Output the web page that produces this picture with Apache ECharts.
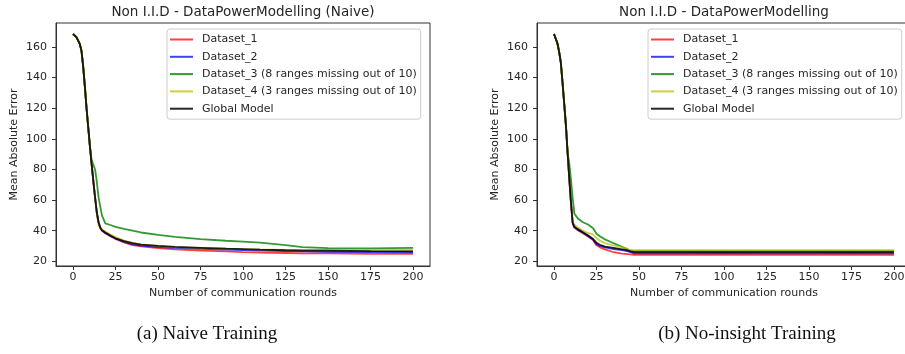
<!DOCTYPE html>
<html>
<head>
<meta charset="utf-8">
<script src="https://cdn.jsdelivr.net/npm/echarts@6/dist/echarts.min.js"></script>
<style>
  html, body { margin: 0; padding: 0; background: #fff; overflow: hidden; }
  #chart { width: 912px; height: 354px; }
</style>
</head>
<body>
<div id="chart"></div>
<script>
// series names, shared by both panels
const seriesNames = [
  "Dataset_1",
  "Dataset_2",
  "Dataset_3 (8 ranges missing out of 10)",
  "Dataset_4 (3 ranges missing out of 10)",
  "Global Model",
];
const seriesColors = [
  "rgba(255,0,0,0.75)",
  "rgba(0,0,255,0.75)",
  "rgba(0,128,0,0.8)",
  "rgba(191,191,0,0.75)",
  "rgba(0,0,0,0.85)",
];

const xTicks = [0, 25, 50, 75, 100, 125, 150, 175, 200];
const yTicks = [20, 40, 60, 80, 100, 120, 140, 160];

// (a) naive training
const roundsNaive = [0, 2, 4, 5, 6, 7, 8, 9, 10, 11, 12, 13, 14, 15, 16, 17, 19, 22, 25, 30, 35, 40, 50, 60, 75, 90, 100, 110, 125, 135, 150, 175, 200];
const naiveDataset1 = [168.5, 166.5, 162, 157.5, 147, 134, 119.5, 107, 94.5, 83, 72, 61.5, 52, 45.5, 42, 40, 38.3, 36.3, 34.6, 32.3, 30.6, 29.7, 28.6, 27.8, 27.0, 26.4, 26.0, 25.7, 25.4, 25.2, 25.1, 24.9, 24.8];
const naiveDataset2 = [168.5, 166.5, 162, 157.5, 147, 134, 119.5, 107, 94.5, 83, 72, 61.5, 52, 45.5, 42, 40.3, 38.5, 36.6, 35, 32.7, 31.1, 30.2, 29.3, 28.7, 28.1, 27.6, 27.3, 27.0, 26.6, 26.4, 26.2, 26.0, 25.9];
const naiveDataset3 = [168.5, 166.5, 162, 157.5, 147, 134, 119.5, 107, 94.5, 86, 83, 80, 72, 62, 56, 50, 44.8, 43.7, 42.5, 41.2, 40, 38.8, 37.3, 36, 34.5, 33.4, 32.8, 32.2, 30.6, 29.3, 28.6, 28.4, 28.8];
const naiveDataset4 = [168.5, 166.5, 162, 157.5, 147, 134, 119.5, 107, 94.5, 83, 72, 61.5, 51, 44, 41.5, 41, 39.5, 37.5, 35.8, 33.5, 32, 31, 30, 29.3, 28.7, 28.2, 27.9, 27.7, 27.5, 27.5, 27.5, 27.5, 27.5];
const naiveGlobal = [168.5, 166.5, 162, 157.5, 147, 134, 119.5, 107, 94.5, 83, 72, 61.5, 52, 45.5, 42, 40.3, 38.8, 36.8, 35, 33.2, 31.8, 30.9, 30, 29.4, 28.8, 28.2, 27.9, 27.6, 27.2, 27, 26.9, 26.6, 26.5];

// (b) no-insight training
const roundsNoInsight = [0, 2, 3, 4, 5, 6, 7, 8, 9, 10, 11, 12, 14, 17, 20, 23, 25, 27, 30, 35, 40, 43, 45, 47, 50, 75, 100, 125, 150, 175, 200];
const noInsightDataset1 = [168.5, 162.5, 157, 150, 137, 123, 109, 91, 74, 58, 45, 42, 40.3, 38.3, 36.2, 33.8, 30.5, 29.1, 27.8, 25.9, 25, 24.7, 24.5, 24.2, 24.2, 24.2, 24.3, 24.2, 24.2, 24.3, 24.2];
const noInsightDataset2 = [168.5, 162.5, 157, 150, 137, 123, 109, 91, 74, 58, 45, 42.3, 40.6, 38.6, 36.5, 34.2, 31.2, 30, 29, 28, 27.3, 26.6, 26, 25.2, 25.2, 25.2, 25.3, 25.2, 25.2, 25.3, 25.2];
const noInsightDataset3 = [168.5, 162.5, 157, 150, 137, 123, 109, 91, 84, 73, 61, 51, 48, 45.5, 44, 41.6, 38, 36.3, 34.3, 31.8, 29.5, 28, 26.9, 26.7, 26.7, 26.7, 26.8, 26.7, 26.7, 26.8, 26.7];
const noInsightDataset4 = [168.5, 162.5, 157, 150, 137, 123, 109, 91, 74, 58, 46, 44, 42, 40, 38.5, 37.5, 35, 33.5, 31.8, 30.3, 29, 28.2, 27.2, 27.2, 27.2, 27.3, 27.2, 27.3, 27.2, 27.2, 27.2];
const noInsightGlobal = [168.5, 162.5, 157, 150, 137, 123, 109, 91, 74, 58, 45, 42.5, 41, 39, 37, 34.5, 32, 30.8, 29.6, 28.7, 27.8, 27.2, 26.5, 25.9, 25.9, 25.9, 26.0, 25.9, 25.9, 26.0, 25.9];

const panels = [
  {
    title: "Non I.I.D - DataPowerModelling (Naive)",
    caption: "(a) Naive Training",
    rounds: roundsNaive,
    values: [naiveDataset1, naiveDataset2, naiveDataset3, naiveDataset4, naiveGlobal],
  },
  {
    title: "Non I.I.D - DataPowerModelling",
    caption: "(b) No-insight Training",
    rounds: roundsNoInsight,
    values: [noInsightDataset1, noInsightDataset2, noInsightDataset3, noInsightDataset4, noInsightGlobal],
  },
];

const FONT = "'DejaVu Sans', sans-serif";
const TEXT = "#262626";
const SPINE = "#333";

const gridLeft = [56, 537];
const gridTop = 23;
const gridWidth = 374;
const gridHeight = 243;
const captionCenter = [207, 747];

function buildOption() {
  const grid = [];
  const xAxis = [];
  const yAxis = [];
  const title = [];
  const legend = [];
  const series = [];

  panels.forEach((panel, i) => {
    grid.push({
      left: gridLeft[i],
      top: gridTop,
      width: gridWidth,
      height: gridHeight,
      show: true,
      borderColor: SPINE,
      borderWidth: 1,
      backgroundColor: "transparent",
      containLabel: false,
      outerBoundsMode: "none",
    });

    xAxis.push({
      type: "value",
      gridIndex: i,
      min: -10,
      max: 210,
      name: "Number of communication rounds",
      nameLocation: "middle",
      nameGap: 20,
      nameTextStyle: { color: TEXT, fontSize: 11, fontFamily: FONT },
      axisLine: { show: true, onZero: false, lineStyle: { color: SPINE, width: 1 } },
      axisTick: { show: true, length: 4, customValues: xTicks, lineStyle: { color: SPINE } },
      axisLabel: {
        customValues: xTicks,
        color: TEXT,
        fontSize: 11,
        fontFamily: FONT,
        margin: 6,
      },
      splitLine: { show: false },
    });

    yAxis.push({
      type: "value",
      gridIndex: i,
      min: 16.9,
      max: 175.7,
      name: "Mean Absolute Error",
      nameLocation: "middle",
      nameGap: 36,
      nameTextStyle: { color: TEXT, fontSize: 11, fontFamily: FONT },
      axisLine: { show: true, onZero: false, lineStyle: { color: SPINE, width: 1 } },
      axisTick: { show: true, length: 4, customValues: yTicks, lineStyle: { color: SPINE } },
      axisLabel: {
        customValues: yTicks,
        color: TEXT,
        fontSize: 11,
        fontFamily: FONT,
        margin: 9,
      },
      splitLine: { show: false },
    });

    title.push({
      text: panel.title,
      left: gridLeft[i] + gridWidth / 2,
      top: 5,
      padding: 0,
      textAlign: "center",
      textStyle: { color: TEXT, fontSize: 13.5, fontWeight: "normal", fontFamily: FONT },
    });

    title.push({
      text: panel.caption,
      left: captionCenter[i],
      top: 325,
      padding: 0,
      textAlign: "center",
      textStyle: {
        color: "#111",
        fontSize: 19,
        fontWeight: "normal",
        fontFamily: "'Liberation Serif', 'DejaVu Serif', serif",
      },
    });

    legend.push({
      data: seriesNames,
      orient: "vertical",
      left: gridLeft[i] + 111,
      top: 29,
      icon: "rect",
      itemWidth: 23,
      itemHeight: 2,
      itemGap: 4.3,
      padding: [4, 4, 4, 3],
      borderColor: "#cccccc",
      borderWidth: 1,
      borderRadius: 3,
      backgroundColor: "rgba(255,255,255,0.8)",
      selectedMode: false,
      textStyle: {
        color: TEXT,
        fontSize: 11,
        fontFamily: FONT,
        lineHeight: 13,
        padding: [0, 0, 0, 4],
      },
    });

    panel.values.forEach((values, k) => {
      series.push({
        type: "line",
        name: seriesNames[k],
        xAxisIndex: i,
        yAxisIndex: i,
        data: panel.rounds.map((r, j) => [r, values[j]]),
        showSymbol: false,
        symbol: "none",
        color: seriesColors[k],
        lineStyle: { width: 1.8, color: seriesColors[k] },
        emphasis: { disabled: true },
      });
    });
  });

  return {
    animation: false,
    backgroundColor: "#fff",
    textStyle: { fontFamily: FONT },
    title,
    legend,
    grid,
    xAxis,
    yAxis,
    series,
  };
}

const chart = echarts.init(document.getElementById("chart"), undefined, { renderer: "canvas" });
chart.setOption(buildOption());
</script>
</body>
</html>
